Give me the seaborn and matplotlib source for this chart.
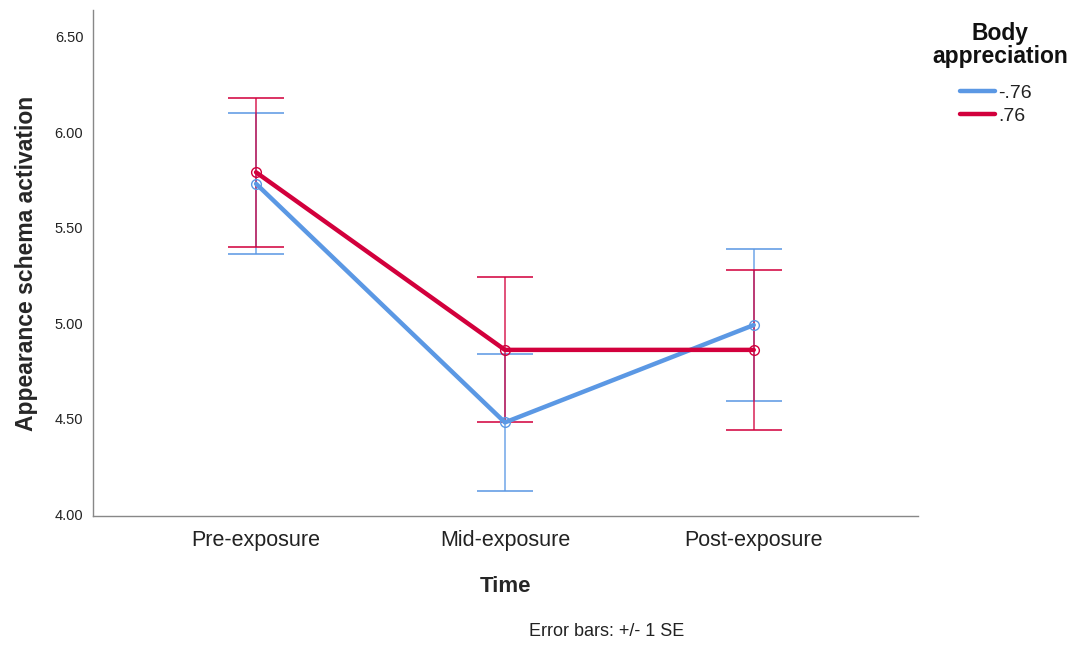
import numpy as np
import pandas as pd
import matplotlib
matplotlib.use("Agg")
import matplotlib.pyplot as plt
from matplotlib.lines import Line2D
import seaborn as sns

times = ["Pre-exposure", "Mid-exposure", "Post-exposure"]
groups = ["-.76", ".76"]
mean_low = [5.73, 4.48, 4.99]
se_low = [0.37, 0.36, 0.40]
mean_high = [5.79, 4.86, 4.86]
se_high = [0.39, 0.38, 0.42]

palette = {"-.76": "#5B98E4", ".76": "#D2003C"}

sns.set_theme(style="white")
plt.rcParams['font.family'] = ['Liberation Sans', 'DejaVu Sans']

df = pd.DataFrame({
    "Time": list(range(3)) * 2,
    "Body appreciation": [groups[0]] * 3 + [groups[1]] * 3,
    "mean": mean_low + mean_high,
    "se": se_low + se_high,
})

fig = plt.figure(figsize=(10.78, 6.48), dpi=100)
ax = fig.add_axes([0.0863, 0.2037, 0.7653, 0.7809])

sns.lineplot(data=df, x="Time", y="mean", hue="Body appreciation",
             palette=palette, hue_order=groups, linewidth=3.2,
             marker="o", markersize=7, markerfacecolor="none",
             markeredgewidth=1.0, ax=ax, legend=False)

for line in list(ax.lines):
    line.set_markeredgecolor(line.get_color())

for g in groups:
    sub = df[df["Body appreciation"] == g]
    ax.errorbar(sub["Time"], sub["mean"], yerr=sub["se"], fmt="none",
                ecolor=palette[g], elinewidth=1.2, capsize=20,
                capthick=1.4, alpha=0.8, zorder=1)

ax.set_xlim(-0.655, 2.66)
ax.set_ylim(3.99, 6.64)
ax.set_xticks(range(3))
ax.set_xticklabels(times, fontsize=15.5, color="#222222")
ax.set_yticks([4.0, 4.5, 5.0, 5.5, 6.0, 6.5])
ax.set_yticklabels(["4.00", "4.50", "5.00", "5.50", "6.00", "6.50"],
                   fontsize=10.5, color="#222222")
ax.tick_params(axis="y", length=0, pad=7)
ax.tick_params(axis="x", length=0, pad=10)
ax.set_xlabel("Time", fontsize=16, fontweight="bold", labelpad=18)
ax.set_ylabel("Appearance schema activation", fontsize=16.5,
              fontweight="bold", labelpad=12)
for s in ["top", "right"]:
    ax.spines[s].set_visible(False)
for s in ["left", "bottom"]:
    ax.spines[s].set_color("#888888")
    ax.spines[s].set_linewidth(1.0)

fig.text(1000 / 1078, 1 - 22 / 648, "Body\nappreciation", ha="center",
         va="top", fontsize=16.5, fontweight="bold", linespacing=1.0,
         multialignment="center", color="#111111")

hl = [Line2D([0], [0], color=palette[g], lw=3.2) for g in groups]
leg = fig.legend(hl, groups, loc="upper left",
                 bbox_to_anchor=(960 / 1078, 1 - 84 / 648),
                 frameon=False, fontsize=14, borderpad=0, borderaxespad=0,
                 handlelength=1.8, handletextpad=0.15, labelspacing=0.3)
for t in leg.get_texts():
    t.set_color("#222222")

fig.text(0.563, 0.012, "Error bars: +/- 1 SE", ha="center", va="bottom",
         fontsize=13, color="#222222")

fig.savefig("out.png", dpi=100)
